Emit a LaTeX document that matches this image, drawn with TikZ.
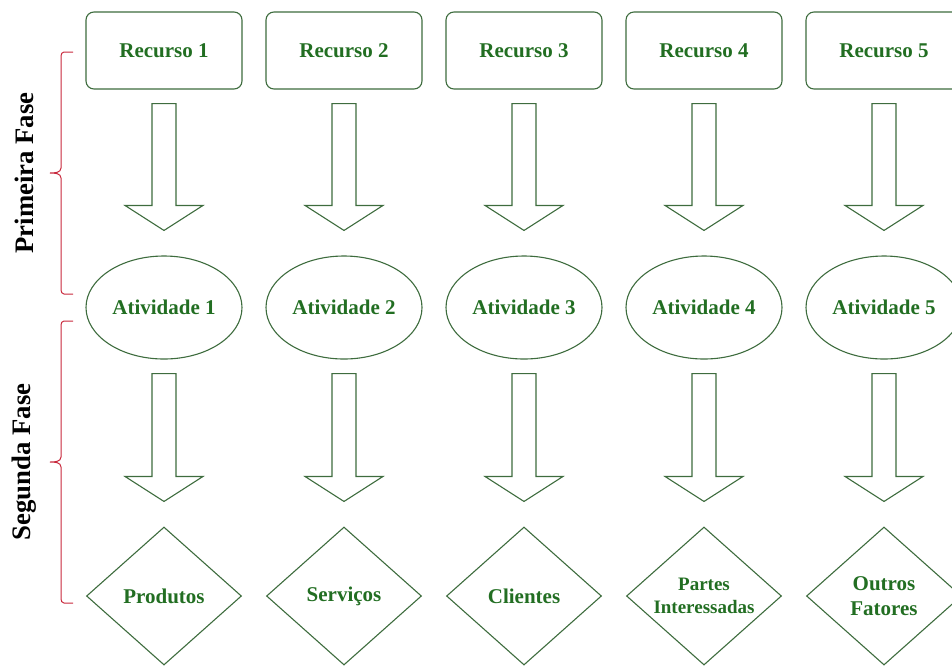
\documentclass[tikz,border=0pt]{standalone}
\usepackage{fontspec}
\setmainfont{Liberation Serif}
\usetikzlibrary{shapes}
\usetikzlibrary{calc}
\definecolor{verde}{RGB}{34,110,34}
\definecolor{verdel}{RGB}{62,108,62}
\definecolor{vermelho}{RGB}{200,40,60}
\tikzset{
    recurso/.style = {rectangle, rounded corners=8pt, draw=verdel, line width=1.1pt, minimum width=156pt, minimum height=77pt, text=verde, font=\bfseries\fontsize{21}{24}\selectfont},
    atividade/.style = {ellipse, draw=verdel, line width=1.1pt, inner sep=0pt, minimum width=156pt, minimum height=103pt, text=verde, font=\bfseries\fontsize{21}{24}\selectfont},
    saida/.style = {diamond, draw=verdel, line width=1.1pt, inner sep=0pt, minimum width=155pt, minimum height=138pt, align=center, text=verde, font=\bfseries\fontsize{21}{25}\selectfont},
    saidap/.style = {saida, font=\bfseries\fontsize{19}{23}\selectfont},
    seta/.style = {draw=verdel, line width=1.1pt, line join=miter},
    chave/.style = {draw=vermelho, line width=1pt},
    fase/.style = {rotate=90, font=\bfseries\fontsize{26.7}{30}\selectfont}
}
% seta em bloco de um no para o outro
\newcommand{\setabloco}[2]{%
  \draw[seta] let \p1=(#1.south), \p2=(#2.north) in
    (\x1-12pt,\y1-14pt) -- (\x1+12pt,\y1-14pt) -- (\x1+12pt,\y2+50pt) -- (\x1+39pt,\y2+50pt)
    -- (\x1,\y2+25pt) -- (\x1-39pt,\y2+50pt) -- (\x1-12pt,\y2+50pt) -- cycle;}

\begin{document}
\begin{tikzpicture}[x=1pt,y=-1pt]
\path[use as bounding box] (0,0) rectangle (952,665);
%
\node[recurso] at (164,50.5) (r1) {Recurso 1};
\node[recurso] at (344,50.5) (r2) {Recurso 2};
\node[recurso] at (524,50.5) (r3) {Recurso 3};
\node[recurso] at (704,50.5) (r4) {Recurso 4};
\node[recurso] at (884,50.5) (r5) {Recurso 5};
%
\node[atividade] at (164,307.5) (a1) {Atividade 1};
\node[atividade] at (344,307.5) (a2) {Atividade 2};
\node[atividade] at (524,307.5) (a3) {Atividade 3};
\node[atividade] at (704,307.5) (a4) {Atividade 4};
\node[atividade] at (884,307.5) (a5) {Atividade 5};
%
\node[saida] at (164,596) (p1) {Produtos};
\node[saida] at (344,596) (p2) {Serviços};
\node[saida] at (524,596) (p3) {Clientes};
\node[saidap] at (704,596) (p4) {Partes\\Interessadas};
\node[saida] at (884,596) (p5) {Outros\\Fatores};
%
\setabloco{r1}{a1}
\setabloco{r2}{a2}
\setabloco{r3}{a3}
\setabloco{r4}{a4}
\setabloco{r5}{a5}
\setabloco{a1}{p1}
\setabloco{a2}{p2}
\setabloco{a3}{p3}
\setabloco{a4}{p4}
\setabloco{a5}{p5}
%
\draw[chave] (73,52) -- (64,52) to[out=180,in=90] (61,56) -- (61,168) to[out=-90,in=0] (50,173)
  to[out=0,in=90] (61,178) -- (61,290) to[out=-90,in=180] (64,294) -- (73,294);
\draw[chave] (73,321) -- (64,321) to[out=180,in=90] (61,325) -- (61,457) to[out=-90,in=0] (50,462)
  to[out=0,in=90] (61,467) -- (61,599) to[out=-90,in=180] (64,603) -- (73,603);
\node[fase] at (24,173) (f1) {Primeira Fase};
\node[fase] at (24,462) (f2) {Segunda Fase};

\end{tikzpicture}
\end{document}
